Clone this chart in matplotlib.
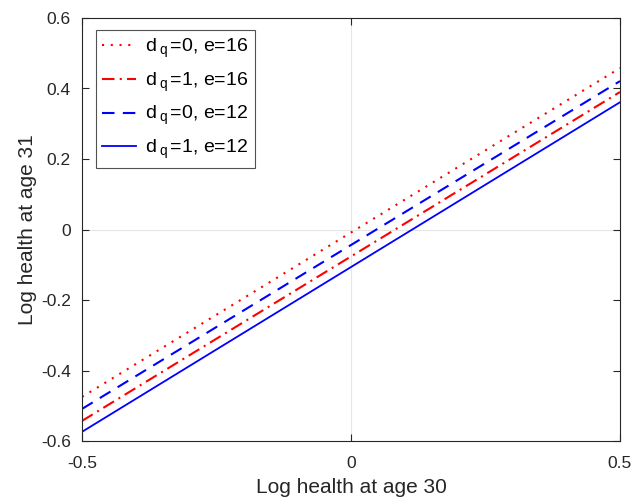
import matplotlib
matplotlib.use("Agg")
import matplotlib.pyplot as plt
import numpy as np

plt.rcParams['font.family'] = ['Liberation Sans', 'DejaVu Sans']
plt.rcParams['mathtext.fontset'] = 'custom'
plt.rcParams['mathtext.rm'] = 'Liberation Sans'
plt.rcParams['mathtext.it'] = 'Liberation Sans'

x = [-0.5, 0.5]
y_d0_e16 = [-0.475, 0.458]
y_d1_e16 = [-0.543, 0.390]
y_d0_e12 = [-0.509, 0.421]
y_d1_e12 = [-0.574, 0.361]
labels = [r'd$_{\mathrm{\;q}}\,$=0, e=16', r'd$_{\mathrm{\;q}}\,$=1, e=16',
          r'd$_{\mathrm{\;q}}\,$=0, e=12', r'd$_{\mathrm{\;q}}\,$=1, e=12']
xticks = [-0.5, 0, 0.5]
xticklabels = ['-0.5', '0', '0.5']
yticks = [-0.6, -0.4, -0.2, 0, 0.2, 0.4, 0.6]
yticklabels = ['-0.6', '-0.4', '-0.2', '0', '0.2', '0.4', '0.6']

fig = plt.figure(figsize=(6.32, 4.98), dpi=100)
ax = fig.add_axes([82/632, 1-441/498, 538/632, 423/498])

ax.axhline(0, color='#e6e6e6', lw=0.8, zorder=0)
ax.axvline(0, color='#e6e6e6', lw=0.8, zorder=0)

ax.plot(x, y_d0_e16, color='red', ls=(0, (1, 3.2)), lw=1.5, label=labels[0])
ax.plot(x, y_d1_e16, color='red', ls=(0, (6, 2.5, 1, 2.5)), lw=1.5, label=labels[1])
ax.plot(x, y_d0_e12, color='blue', ls=(0, (6, 4)), lw=1.5, label=labels[2])
ax.plot(x, y_d1_e12, color='blue', ls='-', lw=1.3, label=labels[3])

ax.set_xlim(-0.5, 0.5)
ax.set_ylim(-0.6, 0.6)
ax.set_xticks(xticks)
ax.set_xticklabels(xticklabels)
ax.set_yticks(yticks)
ax.set_yticklabels(yticklabels)
ax.tick_params(direction='in', length=5, labelsize=12.5, top=True, right=True,
               color='#262626', labelcolor='#262626')
ax.tick_params(axis='y', pad=8)
ax.tick_params(axis='x', pad=11)
for s in ax.spines.values():
    s.set_color('#262626')
    s.set_linewidth(0.8)

ax.set_xlabel('Log health at age 30', fontsize=15, color='#262626', labelpad=5)
ax.set_ylabel('Log health at age 31', fontsize=15, color='#262626', labelpad=3)

leg = ax.legend(loc='upper left', bbox_to_anchor=(14/538, 1-12/423), borderaxespad=0,
                fontsize=14, frameon=True, fancybox=False, edgecolor='#262626',
                handlelength=1.75, borderpad=0.33, labelspacing=0.55, handletextpad=0.45)
leg.get_frame().set_linewidth(0.8)

fig.savefig('out.png', dpi=100)
